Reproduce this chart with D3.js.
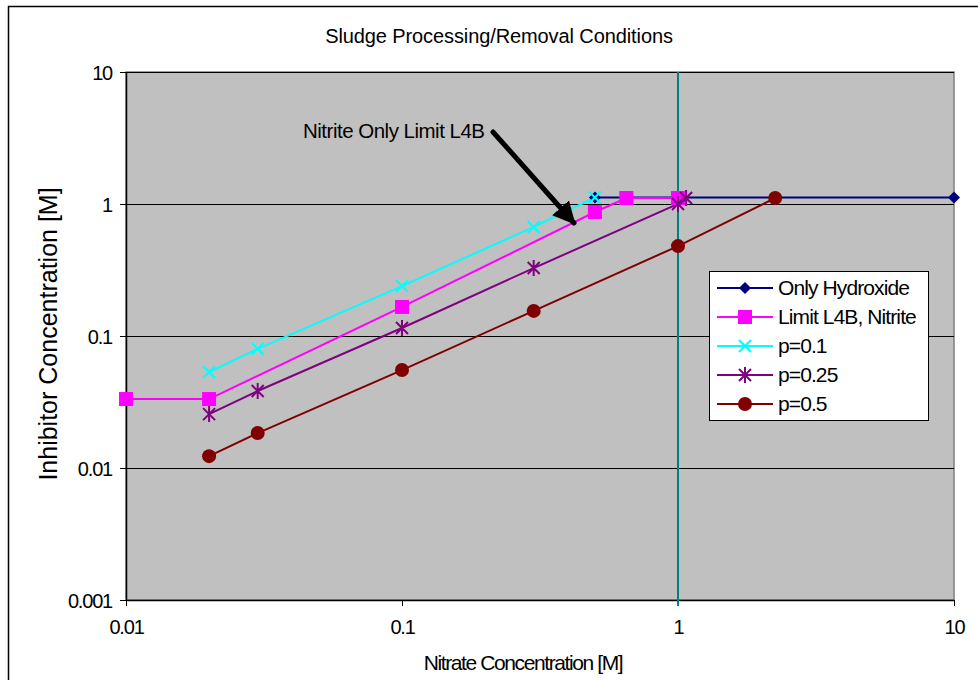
<!DOCTYPE html>
<html><head><meta charset="utf-8">
<script src="https://cdn.jsdelivr.net/npm/d3@7"></script>
<style>body{margin:0;background:#fff}svg{display:block;font-family:"Liberation Sans",Arial,sans-serif}</style>
</head><body><svg id="c" width="978" height="680"></svg>
<script>
const title = "Sludge Processing/Removal Conditions";
const xLabel = "Nitrate Concentration [M]";
const yLabel = "Inhibitor Concentration [M]";
const xTicks = [0.01, 0.1, 1, 10];
const yTicks = [0.001, 0.01, 0.1, 1, 10];
const xTickLabels = ["0.01", "0.1", "1", "10"];
const yTickLabels = ["0.001", "0.01", "0.1", "1", "10"];
const seriesNames = ["Only Hydroxide", "Limit L4B, Nitrite", "p=0.1", "p=0.25", "p=0.5"];
const seriesColors = ["#000080", "#FF00FF", "#00FFFF", "#800080", "#800000"];
const seriesMarkers = ["diamond", "square", "x", "star", "circle"];
const hydroxide = [[0.5, 1.12], [10, 1.12]];
const limitNitrite = [[0.01, 0.0333], [0.02, 0.0333], [0.1, 0.166], [0.5, 0.87], [0.65, 1.11], [1, 1.11]];
const p01 = [[0.02, 0.0533], [0.03, 0.08], [0.1, 0.239], [0.3, 0.67], [0.5, 1.12]];
const p025 = [[0.02, 0.0256], [0.03, 0.0383], [0.1, 0.115], [0.3, 0.327], [1, 1.0], [1.07, 1.11]];
const p05 = [[0.02, 0.0123], [0.03, 0.0184], [0.1, 0.0552], [0.3, 0.155], [1, 0.48], [2.25, 1.11]];
const seriesData = [hydroxide, limitNitrite, p01, p025, p05];
const refLineX = 1;
const annotation = "Nitrite Only Limit L4B";

const svg = d3.select("#c");
const L = 126, R = 954, T = 72, B = 600;
const x = d3.scaleLog().domain([0.01, 10]).range([L, R]);
const y = d3.scaleLog().domain([0.001, 10]).range([B, T]);

// outer border
svg.append("rect").attr("x", 8.5).attr("y", 6.5).attr("width", 1000).attr("height", 700)
  .attr("fill", "#fff").attr("stroke", "#000").attr("stroke-width", 1.5);

// plot area
svg.append("rect").attr("x", L).attr("y", T).attr("width", R - L).attr("height", B - T)
  .attr("fill", "#C0C0C0").attr("stroke", "#808080").attr("stroke-width", 1.5);

// gridlines
svg.append("g").selectAll("line").data(yTicks.slice(1)).join("line")
  .attr("x1", L).attr("x2", R).attr("y1", d => Math.round(y(d)) + 0.5).attr("y2", d => Math.round(y(d)) + 0.5)
  .attr("stroke", "#000").attr("stroke-width", 1);

// axes
const xAxis = d3.axisBottom(x).tickValues(xTicks).tickFormat((d, i) => xTickLabels[i]).tickSizeInner(6).tickSizeOuter(0).tickPadding(14);
const gx = svg.append("g").attr("transform", `translate(0,${B})`).call(xAxis);
const yAxis = d3.axisLeft(y).tickValues(yTicks).tickFormat((d, i) => yTickLabels[i]).tickSizeInner(6).tickSizeOuter(0).tickPadding(8);
const gy = svg.append("g").attr("transform", `translate(${L},0)`).call(yAxis);
[gx, gy].forEach(g => {
  g.attr("font-size", 20).attr("font-family", "Liberation Sans, Arial, sans-serif");
  g.select(".domain").attr("stroke", "#000").attr("stroke-width", 1.5);
  g.selectAll(".tick line").attr("stroke", "#000");
  g.selectAll("text").attr("font-size", 20).attr("fill", "#000").attr("letter-spacing", "-1.2");
});
gy.selectAll(".tick text").attr("dy", "0.35em");

// reference vertical line
svg.append("line").attr("x1", x(refLineX)).attr("x2", x(refLineX)).attr("y1", T).attr("y2", B + 6)
  .attr("stroke", "#008080").attr("stroke-width", 2);

// series lines
const line = d3.line().x(d => x(d[0])).y(d => y(d[1]));
seriesData.forEach((data, i) => {
  svg.append("path").datum(data).attr("d", line).attr("fill", "none")
    .attr("stroke", seriesColors[i]).attr("stroke-width", 2);
});

function drawMarker(g, type, color, cx, cy) {
  if (type === "diamond") {
    g.append("path").attr("d", `M${cx},${cy - 6}L${cx + 6},${cy}L${cx},${cy + 6}L${cx - 6},${cy}Z`).attr("fill", color);
  } else if (type === "square") {
    g.append("rect").attr("x", cx - 7).attr("y", cy - 7).attr("width", 14).attr("height", 14).attr("fill", color);
  } else if (type === "x") {
    g.append("path").attr("d", `M${cx - 6},${cy - 6}L${cx + 6},${cy + 6}M${cx - 6},${cy + 6}L${cx + 6},${cy - 6}`).attr("stroke", color).attr("stroke-width", 2);
  } else if (type === "star") {
    g.append("path").attr("d", `M${cx - 6},${cy - 6}L${cx + 6},${cy + 6}M${cx - 6},${cy + 6}L${cx + 6},${cy - 6}M${cx},${cy - 8}L${cx},${cy + 8}`).attr("stroke", color).attr("stroke-width", 2);
  } else if (type === "circle") {
    g.append("circle").attr("cx", cx).attr("cy", cy).attr("r", 7).attr("fill", color);
  }
}
seriesData.forEach((data, i) => {
  const g = svg.append("g");
  data.forEach(d => drawMarker(g, seriesMarkers[i], seriesColors[i], x(d[0]), y(d[1])));
});

// annotation and arrow
svg.append("defs").append("marker").attr("id", "ah").attr("viewBox", "0 0 10 10").attr("refX", 9).attr("refY", 5)
  .attr("markerWidth", 4.5).attr("markerHeight", 4.5).attr("orient", "auto")
  .append("path").attr("d", "M0,0L10,5L0,10Z").attr("fill", "#000");
svg.append("line").attr("x1", 493).attr("y1", 132).attr("x2", 574).attr("y2", 223)
  .attr("stroke", "#000").attr("stroke-width", 5).attr("stroke-linecap", "round").attr("marker-end", "url(#ah)");
svg.append("text").attr("x", 303).attr("y", 138).attr("font-size", 20.5).attr("letter-spacing", "-0.5").text(annotation);

// title and axis labels
svg.append("text").attr("x", 499).attr("y", 43).attr("text-anchor", "middle").attr("font-size", 20).attr("letter-spacing", "-0.1").text(title);
svg.append("text").attr("x", 523).attr("y", 670).attr("text-anchor", "middle").attr("font-size", 21).attr("letter-spacing", "-1.4").text(xLabel);
svg.append("text").attr("transform", "translate(57,334) rotate(-90)").attr("text-anchor", "middle").attr("font-size", 25).text(yLabel);

// legend
const lg = svg.append("g");
lg.append("rect").attr("x", 709.5).attr("y", 271.5).attr("width", 219).attr("height", 149).attr("fill", "#fff").attr("stroke", "#000");
seriesNames.forEach((n, i) => {
  const yy = 288 + i * 29;
  lg.append("line").attr("x1", 717).attr("x2", 773).attr("y1", yy).attr("y2", yy).attr("stroke", seriesColors[i]).attr("stroke-width", 2);
  drawMarker(lg, seriesMarkers[i], seriesColors[i], 745, yy);
  lg.append("text").attr("x", 778).attr("y", yy + 7).attr("font-size", 21).attr("letter-spacing", "-0.9").text(n);
});
</script></body></html>
